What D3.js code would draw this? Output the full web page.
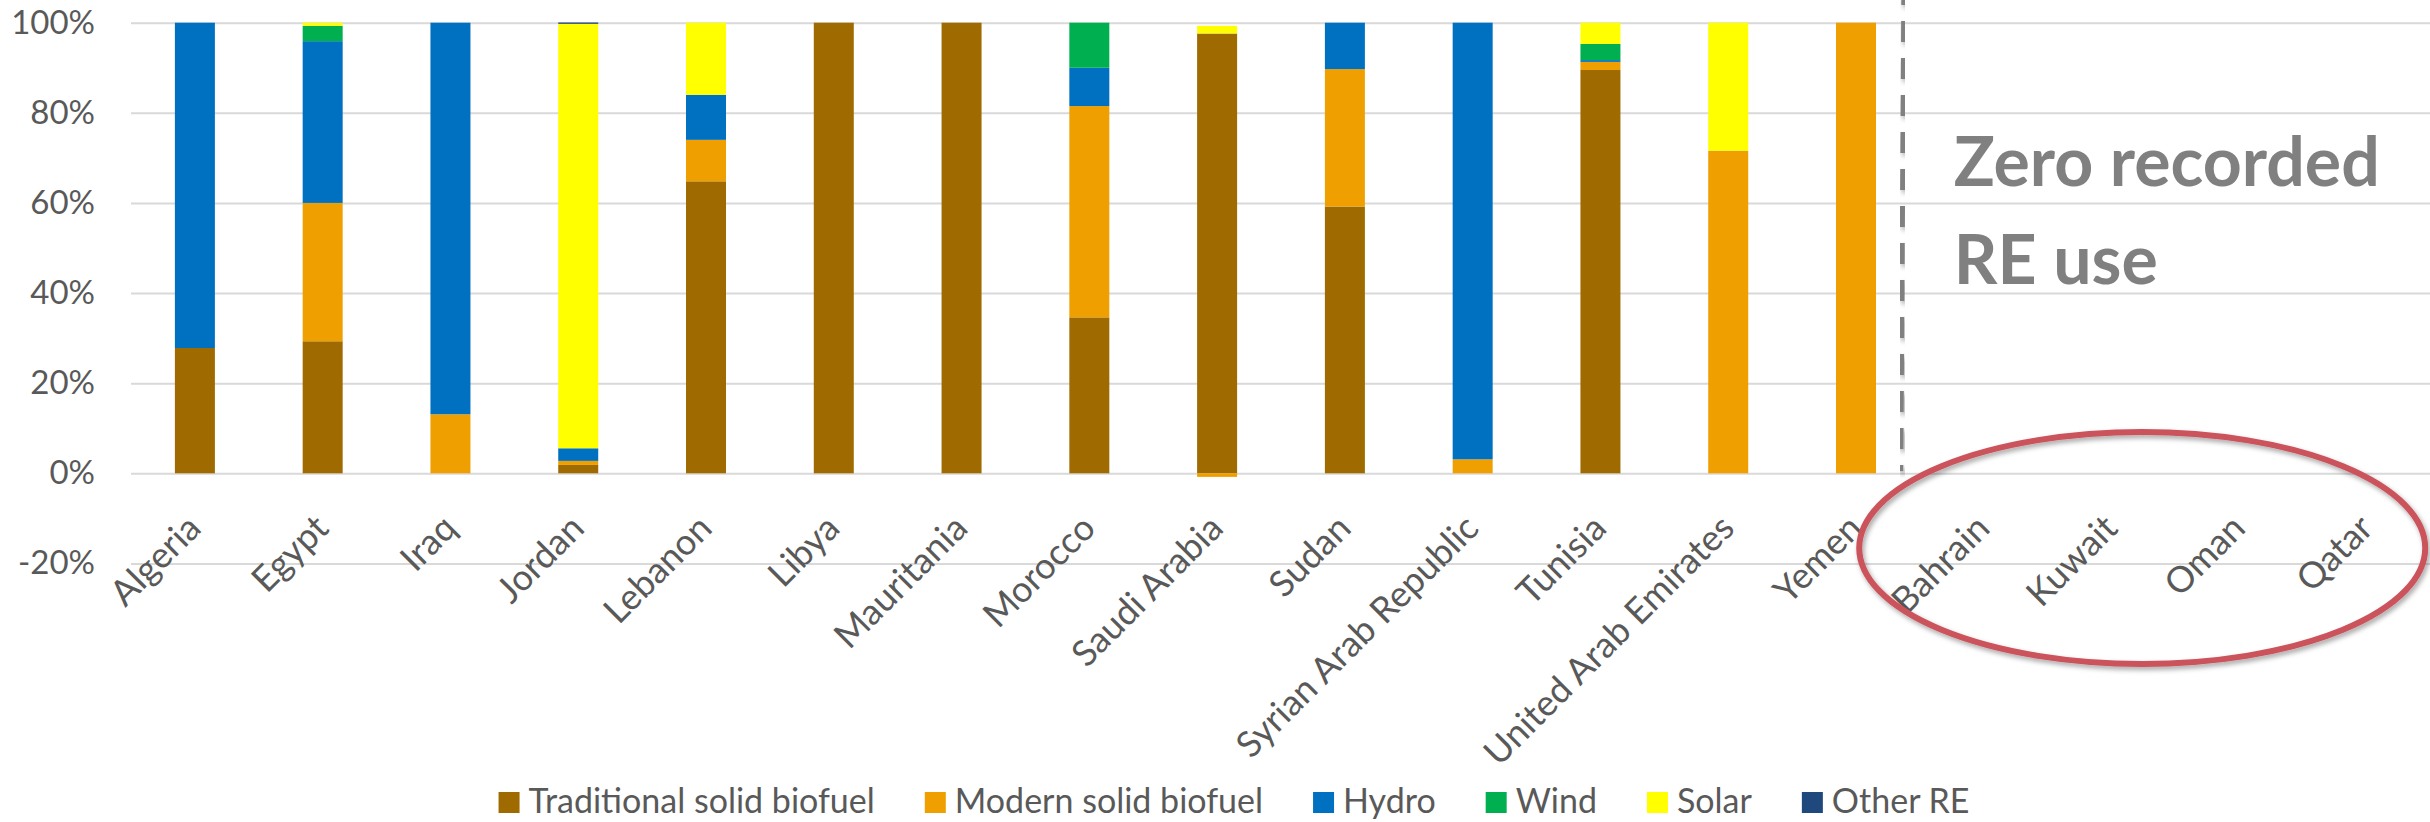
<!DOCTYPE html>
<html>
<head>
<meta charset="utf-8">
<script src="https://cdn.jsdelivr.net/npm/d3@7"></script>
<style>
  html, body { margin: 0; padding: 0; background: #ffffff; }
  svg { display: block; font-family: Lato, "Open Sans", "DejaVu Sans", sans-serif; }
</style>
</head>
<body>
<svg id="chart" width="2430" height="822"></svg>
<script>
// Renewable energy mix by country (share of total RE consumption, %)
const categories = [
  "Algeria", "Egypt", "Iraq", "Jordan", "Lebanon", "Libya", "Mauritania",
  "Morocco", "Saudi Arabia", "Sudan", "Syrian Arab Republic", "Tunisia",
  "United Arab Emirates", "Yemen", "Bahrain", "Kuwait", "Oman", "Qatar"
];
const seriesNames = ["Traditional solid biofuel", "Modern solid biofuel", "Hydro", "Wind", "Solar", "Other RE"];
const seriesColors = ["#9F6A00", "#EFA000", "#0070C0", "#00B050", "#FFFF00", "#1F497D"];

const traditionalSolidBiofuel = [27.8, 29.3, 0, 1.85, 64.8, 100, 100, 34.6, 97.6, 59.2, 0, 89.5, 0, 0, 0, 0, 0, 0];
const modernSolidBiofuel      = [0, 30.7, 13.1, 0.9, 9.2, 0, 0, 46.9, -0.8, 30.5, 3.1, 1.8, 71.6, 100, 0, 0, 0, 0];
const hydro                   = [72.2, 35.9, 86.9, 2.8, 10.0, 0, 0, 8.5, 0, 10.3, 96.9, 0.4, 0, 0, 0, 0, 0, 0];
const wind                    = [0, 3.4, 0, 0, 0, 0, 0, 10.0, 0, 0, 0, 3.6, 0, 0, 0, 0, 0, 0];
const solar                   = [0, 0.7, 0, 94.2, 16.0, 0, 0, 0, 1.7, 0, 0, 4.7, 28.4, 0, 0, 0, 0, 0];
const otherRE                 = [0, 0, 0, 0.3, 0, 0, 0, 0, 0, 0, 0, 0, 0, 0, 0, 0, 0, 0];

const yTicks = [-0.2, 0, 0.2, 0.4, 0.6, 0.8, 1.0];
const noteLines = ["Zero recorded", "RE use"];

const seriesValues = [traditionalSolidBiofuel, modernSolidBiofuel, hydro, wind, solar, otherRE];

// one row per country, shares as fractions
const rows = categories.map((c, i) => {
  const r = { country: c };
  seriesNames.forEach((s, k) => { r[s] = seriesValues[k][i] / 100; });
  return r;
});

const W = 2430, H = 822;
const svg = d3.select("#chart");
svg.append("rect").attr("width", W).attr("height", H).attr("fill", "#ffffff");

const defs = svg.append("defs");
const shadow = defs.append("filter").attr("id", "soft-shadow")
  .attr("x", "-10%").attr("y", "-10%").attr("width", "130%").attr("height", "130%");
shadow.append("feDropShadow").attr("dx", 2).attr("dy", 3).attr("stdDeviation", 2.5)
  .attr("flood-color", "#000").attr("flood-opacity", 0.35);

const plotLeft = 131, plotRight = 2431;
const x = d3.scaleBand().domain(categories).range([plotLeft, plotRight])
  .paddingInner(0.687).paddingOuter(0.3435);
const y = d3.scaleLinear().domain([-0.2, 1.0]).range([563.4, 22.7]);

// gridlines and value labels
const yAxis = d3.axisLeft(y)
  .tickValues(yTicks)
  .tickSize(-(W - plotLeft))
  .tickPadding(36)
  .tickFormat(d => Math.round(d * 100) + "%");
const gy = svg.append("g").attr("transform", `translate(${plotLeft},0)`).call(yAxis);
gy.select(".domain").remove();
gy.selectAll(".tick line").attr("stroke", "#d9d9d9").attr("stroke-width", 2);
gy.selectAll(".tick text").attr("fill", "#595959").attr("font-size", 33)
  .attr("font-family", "Lato, 'Open Sans', sans-serif");

// stacked bars (negative shares stack below zero)
const stack = d3.stack().keys(seriesNames).offset(d3.stackOffsetDiverging);
const stacked = stack(rows);
const color = d3.scaleOrdinal().domain(seriesNames).range(seriesColors);

svg.append("g").selectAll("g")
  .data(stacked)
  .join("g")
  .attr("fill", d => color(d.key))
  .selectAll("rect")
  .data(d => d.filter(p => Math.abs(p[1] - p[0]) > 1e-9))
  .join("rect")
  .attr("x", d => x(d.data.country))
  .attr("width", x.bandwidth())
  .attr("y", d => y(Math.max(d[0], d[1])))
  .attr("height", d => Math.abs(y(d[0]) - y(d[1])));

// separator between countries with and without recorded RE use
const sepX = x("Yemen") + x.bandwidth() + 0.21 * x.step();
svg.append("line")
  .attr("x1", sepX + 1).attr("y1", -5)
  .attr("x2", sepX - 2).attr("y2", y(0) - 2)
  .attr("stroke", "#808080").attr("stroke-width", 5)
  .attr("stroke-dasharray", "21 16")
  .attr("stroke-dashoffset", 11)
  .attr("filter", "url(#soft-shadow)");

// category labels
const xAxis = d3.axisBottom(x).tickSize(0);
const gx = svg.append("g").attr("transform", `translate(0,${y(0)})`).call(xAxis);
gx.select(".domain").remove();
gx.selectAll(".tick text")
  .attr("fill", "#595959")
  .attr("font-size", 36)
  .attr("font-family", "Lato, 'Open Sans', sans-serif")
  .attr("text-anchor", "end")
  .attr("y", 0).attr("dy", 0)
  .attr("transform", "translate(8,57) rotate(-45)");

// note for the countries without data
const note = svg.append("g").attr("fill", "#808080")
  .attr("font-family", "Lato, 'Open Sans', sans-serif").attr("font-weight", 700);
const noteX = sepX + 51;
const t1 = note.append("text").attr("x", noteX).attr("y", 186).attr("font-size", 64).text(noteLines[0]);
const w1 = t1.node().getComputedTextLength();
const noteSize = 64 * 426 / w1;
t1.attr("font-size", noteSize);
note.append("text").attr("x", noteX).attr("y", 284).attr("font-size", noteSize).text(noteLines[1]);

// highlight ring around the zero-use group
const ringCx = x("Kuwait") + x.bandwidth() / 2 + 0.24 * x.step();
svg.append("ellipse")
  .attr("cx", ringCx).attr("cy", 548)
  .attr("rx", 283).attr("ry", 116)
  .attr("fill", "none")
  .attr("stroke", "#CB535B").attr("stroke-width", 6)
  .attr("filter", "url(#soft-shadow)");

// legend
const legend = svg.append("g").attr("font-family", "Lato, 'Open Sans', sans-serif");
const sw = 21, gapText = 9, gapItem = 50, legendCenter = 1234, legendBase = 813;
const items = seriesNames.map((name, i) => {
  const g = legend.append("g");
  g.append("rect").attr("width", sw).attr("height", sw).attr("y", legendBase - sw).attr("fill", seriesColors[i]);
  const t = g.append("text").attr("x", sw + gapText).attr("y", legendBase)
    .attr("font-size", 34).attr("fill", "#595959").text(name);
  return { g, w: sw + gapText + t.node().getComputedTextLength() };
});
const totalW = d3.sum(items, d => d.w) + gapItem * (items.length - 1);
let cursor = legendCenter - totalW / 2;
items.forEach(it => {
  it.g.attr("transform", `translate(${cursor},0)`);
  cursor += it.w + gapItem;
});
</script>
</body>
</html>
